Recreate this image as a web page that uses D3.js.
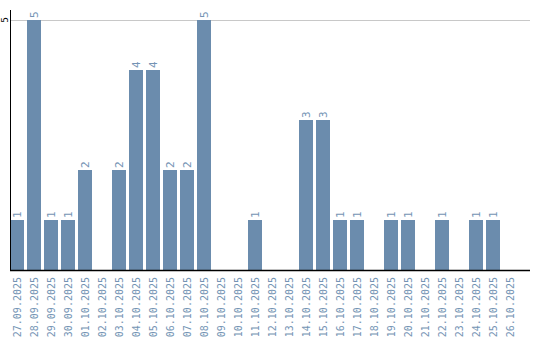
<!DOCTYPE html>
<html>
<head>
<meta charset="utf-8">
<script src="https://cdn.jsdelivr.net/npm/d3@7"></script>
<style>
  body { margin: 0; background: #fff; }
  svg { display: block; }
</style>
</head>
<body>
<div id="chart"></div>
<script>
// data
let dates = ["27.09.2025", "28.09.2025", "29.09.2025", "30.09.2025", "01.10.2025",
  "02.10.2025", "03.10.2025", "04.10.2025", "05.10.2025", "06.10.2025",
  "07.10.2025", "08.10.2025", "09.10.2025", "10.10.2025", "11.10.2025",
  "12.10.2025", "13.10.2025", "14.10.2025", "15.10.2025", "16.10.2025",
  "17.10.2025", "18.10.2025", "19.10.2025", "20.10.2025", "21.10.2025",
  "22.10.2025", "23.10.2025", "24.10.2025", "25.10.2025", "26.10.2025"];
let counts = [1, 5, 1, 1, 2, 0, 2, 4, 4, 2, 2, 5, 0, 0, 1, 0, 0, 3, 3, 1, 1, 0, 1, 1, 0, 1, 0, 1, 1, 0];
let yTicks = [5];

let data = dates.map((d, i) => ({date: d, count: counts[i]}));

let width = 540, height = 340;
let plotLeft = 10, plotRight = 530, plotTop = 20, plotBottom = 270;

let svg = d3.select("#chart")
  .append("svg")
    .attr("width", width)
    .attr("height", height);

let x = d3.scaleBand()
  .domain(dates)
  .range([plotLeft, 517])
  .paddingInner(3 / 17)
  .paddingOuter(0);

let y = d3.scaleLinear()
  .domain([0, 5])
  .range([plotBottom, plotTop]);

// grid line at the max tick
svg.selectAll(".grid")
  .data(yTicks)
  .enter().append("line")
    .attr("x1", plotLeft)
    .attr("x2", plotRight)
    .attr("y1", d => y(d) + 0.5)
    .attr("y2", d => y(d) + 0.5)
    .style("stroke", "#c8c8c8")
    .style("stroke-width", 1);

// bars
svg.selectAll(".bar")
  .data(data.filter(d => d.count > 0))
  .enter().append("rect")
    .attr("x", d => x(d.date))
    .attr("y", d => y(d.count))
    .attr("width", x.bandwidth())
    .attr("height", d => y(0) - y(d.count))
    .style("fill", "#6b8cad");

// value labels above bars
svg.selectAll(".val")
  .data(data.filter(d => d.count > 0))
  .enter().append("text")
    .attr("transform", d => "translate(" + (x(d.date) + x.bandwidth() / 2 + 4) + "," + (y(d.count) - 2) + ") rotate(-90)")
    .attr("text-anchor", "start")
    .style("font-family", "DejaVu Sans Mono, monospace")
    .style("font-size", "11px")
    .style("fill", "#7494b4")
    .text(d => d.count);

// y axis line and tick label
svg.append("line")
  .attr("x1", plotLeft + 0.5).attr("x2", plotLeft + 0.5)
  .attr("y1", 10).attr("y2", plotBottom)
  .style("stroke", "#000")
  .style("stroke-width", 1);

svg.selectAll(".ytick")
  .data(yTicks)
  .enter().append("text")
    .attr("transform", d => "translate(8," + y(d) + ") rotate(-90)")
    .attr("text-anchor", "middle")
    .style("font-family", "DejaVu Sans, sans-serif")
    .style("font-size", "9px")
    .style("fill", "#000")
    .text(d => d);

// baseline
svg.append("line")
  .attr("x1", plotLeft).attr("x2", plotRight)
  .attr("y1", plotBottom + 0.5).attr("y2", plotBottom + 0.5)
  .style("stroke", "#000")
  .style("stroke-width", 1.5);

// x labels, rotated
svg.selectAll(".xlab")
  .data(dates)
  .enter().append("text")
    .attr("transform", d => "translate(" + (x(d) + x.bandwidth() / 2 + 4) + "," + (plotBottom + 7) + ") rotate(-90)")
    .attr("text-anchor", "end")
    .style("font-family", "DejaVu Sans Mono, monospace")
    .style("font-size", "10px")
    .style("fill", "#7494b4")
    .text(d => d);
</script>
</body>
</html>
